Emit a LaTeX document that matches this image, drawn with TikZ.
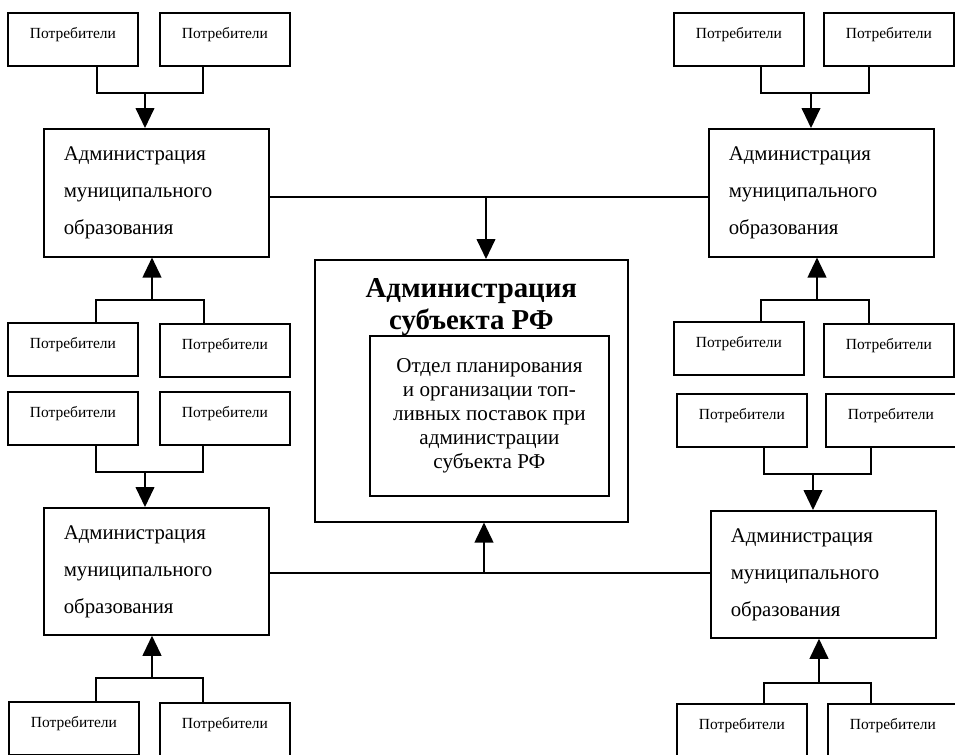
\documentclass[tikz,border=0pt]{standalone}
\usepackage{fontspec}
\setmainfont{Liberation Serif}
\usetikzlibrary{arrows.meta,positioning}

\begin{document}
\begin{tikzpicture}[x=0.25mm,y=-0.25mm,
            line width=1.1pt,
            box/.style={draw,rectangle,anchor=north west},
            cons/.style={box,minimum width=32.6mm,inner sep=0pt,text height=6.4mm,text depth=6.85mm,font=\fontsize{11}{13}\selectfont},
            adm/.style={box,minimum width=56.3mm,minimum height=32mm,text width=46.3mm,inner xsep=5mm,align=left,font=\fontsize{14.8}{26.3}\selectfont},
            arr/.style={-{Triangle[width=4.7mm,length=5mm]}}
          ]
          \useasboundingbox (0,0) rectangle (955,755);
          \clip (0,0) rectangle (955,755);

          %administrations
          \node[adm] (adm1) at (43,128) {Администрация\\муниципального\\образования};
          \node[adm] (adm2) at (708,128) {Администрация\\муниципального\\образования};
          \node[adm,minimum height=31.8mm] (adm3) at (43,507) {Администрация\\муниципального\\образования};
          \node[adm,minimum height=31.8mm] (adm4) at (710,510) {Администрация\\муниципального\\образования};

          %center
          \node[box,minimum width=78.3mm,minimum height=65.5mm,
                label={[anchor=north,align=center,inner sep=0pt,yshift=-4.6mm,font=\bfseries\fontsize{20.5}{22.8}\selectfont]north:Администрация\\субъекта РФ}] (sub) at (314,259) {};
          \node[box,minimum width=59.8mm,minimum height=40mm,align=center,font=\fontsize{15}{17.2}\selectfont] (dept) at (369,335)
                {Отдел планирования\\и организации топ-\\ливных поставок при\\администрации\\субъекта РФ};

          %consumers left
          \node[cons] (cA) at (7,12) {Потребители};
          \node[cons] (cB) at (159,12) {Потребители};
          \node[cons] (cE) at (7,322) {Потребители};
          \node[cons] (cF) at (159,323) {Потребители};
          \node[cons] (cG) at (7,391) {Потребители};
          \node[cons] (cH) at (159,391) {Потребители};
          \node[cons] (cI) at (8,701) {Потребители};
          \node[cons] (cJ) at (159,702) {Потребители};

          %consumers right
          \node[cons] (cC) at (673,12) {Потребители};
          \node[cons] (cD) at (823,12) {Потребители};
          \node[cons] (cM) at (673,321) {Потребители};
          \node[cons] (cN) at (823,323) {Потребители};
          \node[cons] (cO) at (676,393) {Потребители};
          \node[cons] (cP) at (825,393) {Потребители};
          \node[cons] (cK) at (676,703) {Потребители};
          \node[cons] (cL) at (827,703) {Потребители};

          %junctions
          \coordinate (j1) at (145,93);
          \coordinate (j2) at (152,300);
          \coordinate (j3) at (145,472);
          \coordinate (j4) at (152,678);
          \coordinate (j5) at (811,93);
          \coordinate (j6) at (817,300);
          \coordinate (j7) at (813,474);
          \coordinate (j8) at (819,683);
          \coordinate (tc) at (486,197);
          \coordinate (bc) at (484,573);

          %brackets
          \draw ([shift={(24,0)}]cA.south) |- (j1) -| ([shift={(-22,0)}]cB.south);
          \draw ([shift={(23,0)}]cE.north) |- (j2) -| ([shift={(-21,0)}]cF.north);
          \draw ([shift={(23,0)}]cG.south) |- (j3) -| ([shift={(-22,0)}]cH.south);
          \draw ([shift={(22,0)}]cI.north) |- (j4) -| ([shift={(-22,0)}]cJ.north);
          \draw ([shift={(22,0)}]cC.south) |- (j5) -| ([shift={(-20,0)}]cD.south);
          \draw ([shift={(22,0)}]cM.north) |- (j6) -| ([shift={(-20,0)}]cN.north);
          \draw ([shift={(22,0)}]cO.south) |- (j7) -| ([shift={(-20,0)}]cP.south);
          \draw ([shift={(22,0)}]cK.north) |- (j8) -| ([shift={(-22,0)}]cL.north);

          %arrows
          \draw[arr] (j1) -- (j1 |- adm1.north);
          \draw[arr] (j2) -- (j2 |- adm1.south);
          \draw[arr] (j3) -- (j3 |- adm3.north);
          \draw[arr] (j4) -- (j4 |- adm3.south);
          \draw[arr] (j5) -- (j5 |- adm2.north);
          \draw[arr] (j6) -- (j6 |- adm2.south);
          \draw[arr] (j7) -- (j7 |- adm4.north);
          \draw[arr] (j8) -- (j8 |- adm4.south);

          %links to the centre
          \draw (adm1.east |- tc) -- (adm2.west |- tc);
          \draw[arr] (tc) -- (tc |- sub.north);
          \draw (adm3.east |- bc) -- (adm4.west |- bc);
          \draw[arr] (bc) -- (bc |- sub.south);
      \end{tikzpicture}
\end{document}
